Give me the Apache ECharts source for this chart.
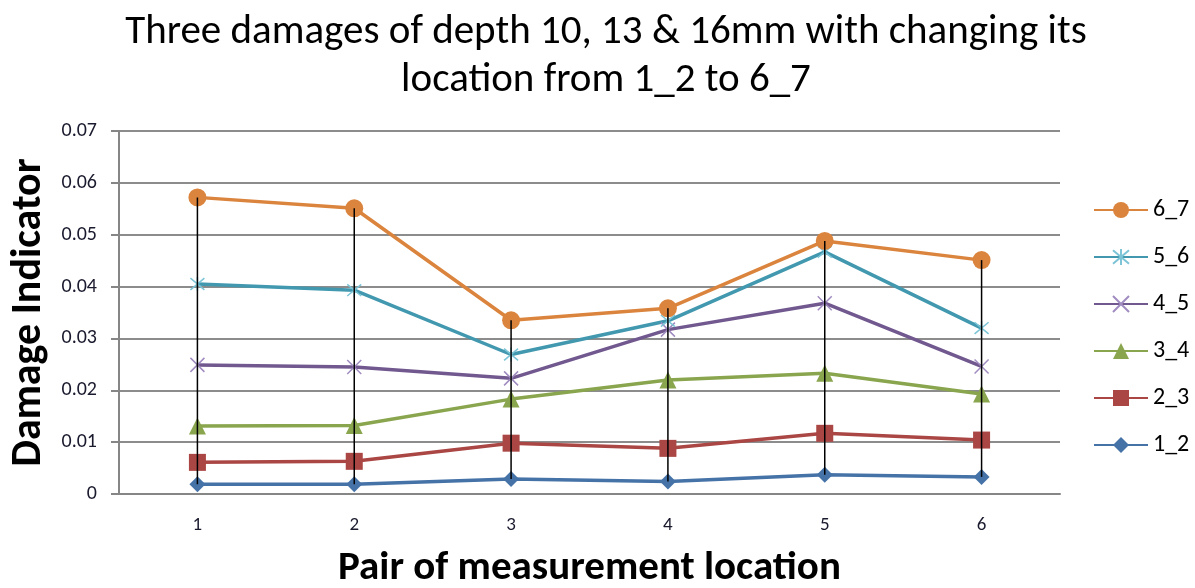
<!DOCTYPE html>
<html><head><meta charset="utf-8">
<script src="https://cdn.jsdelivr.net/npm/echarts@6/dist/echarts.min.js"></script>
<style>html,body{margin:0;padding:0;background:#fff}#c{width:1195px;height:588px}</style>
</head><body><div id="c"></div>
<script>
var categories = ['1','2','3','4','5','6'];
var s1_2 = [0.0019, 0.0019, 0.0029, 0.0024, 0.0037, 0.0033];
var s2_3 = [0.0061, 0.0063, 0.0098, 0.0088, 0.0117, 0.0104];
var s3_4 = [0.0131, 0.0132, 0.0183, 0.0220, 0.0233, 0.0193];
var s4_5 = [0.0249, 0.0245, 0.0223, 0.0317, 0.0368, 0.0246];
var s5_6 = [0.0405, 0.0393, 0.0269, 0.0334, 0.0467, 0.0320];
var s6_7 = [0.0572, 0.0551, 0.0335, 0.0358, 0.0488, 0.0451];
var yTicks = ['0','0.01','0.02','0.03','0.04','0.05','0.06','0.07'];

var font = 'Carlito, "Liberation Sans", Arial, sans-serif';
var crossPath = 'path://M0,0L10,10M10,0L0,10';
var starPath = 'path://M0,0L10,10M10,0L0,10M5,-1L5,11';

function mk(name, data, color, symbol, size, extra) {
  var s = {
    name: name, type: 'line', data: data, symbol: symbol, symbolSize: size,
    lineStyle: {color: color, width: 3.5},
    itemStyle: {color: color},
    z: 3
  };
  if (extra) for (var k in extra) s[k] = extra[k];
  return s;
}

var chart = echarts.init(document.getElementById('c'));
chart.setOption({
  animation: false,
  title: {
    text: 'Three damages of depth 10, 13 & 16mm with changing its\nlocation from 1_2 to 6_7',
    left: 601, top: 4, textAlign: 'center',
    textStyle: {fontFamily: font, fontWeight: 'normal', fontSize: 41, lineHeight: 48, color: '#000'}
  },
  legend: {
    orient: 'vertical', left: 1088, top: 193,
    itemWidth: 54, itemHeight: 20, itemGap: 23,
    data: ['6_7','5_6','4_5','3_4','2_3','1_2'],
    textStyle: {fontFamily: font, fontSize: 24, lineHeight: 20, color: '#000'}
  },
  grid: {left: 119, right: 135, top: 131, bottom: 94, outerBoundsMode: 'none', containLabel: false},
  xAxis: {
    type: 'category', data: categories, boundaryGap: true,
    name: 'Pair of measurement location', nameLocation: 'middle', nameGap: 54,
    nameTextStyle: {fontFamily: font, fontWeight: 'bold', fontSize: 41, color: '#000'},
    axisLine: {lineStyle: {color: '#868686', width: 2}},
    axisTick: {show: false},
    axisLabel: {fontFamily: font, fontSize: 19, color: '#1a1a2e', margin: 22}
  },
  yAxis: {
    type: 'value', min: 0, max: 0.07, interval: 0.01,
    name: 'Damage Indicator', nameLocation: 'middle', nameGap: 68, nameRotate: 90,
    nameTextStyle: {fontFamily: font, fontWeight: 'bold', fontSize: 42, color: '#000'},
    axisLine: {show: true, lineStyle: {color: '#868686', width: 2}},
    axisTick: {show: true, inside: false, length: 8, lineStyle: {color: '#868686', width: 2}},
    splitLine: {lineStyle: {color: '#8c8c8c', width: 2}},
    axisLabel: {fontFamily: font, fontSize: 20, color: '#1a1a2e', margin: 22,
      formatter: function (v) { return yTicks[Math.round(v * 100)]; }}
  },
  series: [
    mk('1_2', s1_2, '#4572A7', 'diamond', 16),
    mk('2_3', s2_3, '#AA4643', 'rect', 17),
    mk('3_4', s3_4, '#89A54E', 'triangle', 17),
    mk('4_5', s4_5, '#71588F', crossPath, 14, {itemStyle: {color: '#71588F', borderColor: '#a08cc0', borderWidth: 1.5}}),
    mk('5_6', s5_6, '#4198AF', starPath, 14, {itemStyle: {color: '#4198AF', borderColor: '#7cc4d6', borderWidth: 1.5}}),
    mk('6_7', s6_7, '#DB843D', 'circle', 18),
    {
      type: 'custom', name: 'hilo', z: 10, silent: true,
      data: categories.map(function (c, i) { return [i, s1_2[i], s6_7[i]]; }),
      renderItem: function (params, api) {
        var a = api.coord([api.value(0), api.value(1)]);
        var b = api.coord([api.value(0), api.value(2)]);
        return {type: 'line', shape: {x1: a[0], y1: a[1], x2: b[0], y2: b[1]},
          style: {stroke: '#000', lineWidth: 1.5}};
      }
    }
  ]
});
</script></body></html>
